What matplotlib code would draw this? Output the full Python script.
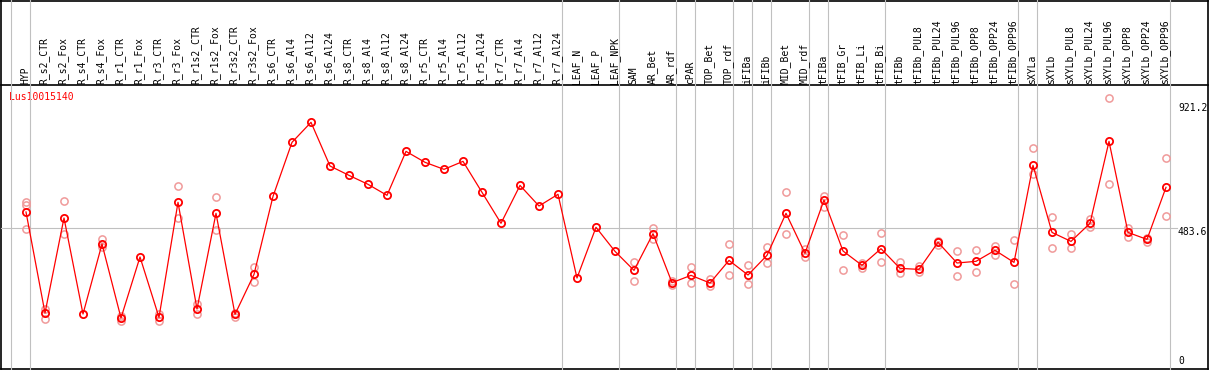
import numpy as np
import matplotlib
matplotlib.use("Agg")
import matplotlib.pyplot as plt
from matplotlib.lines import Line2D
from matplotlib.transforms import blended_transform_factory

# ---------------- data ----------------
categories = ["HYP", "R_s2_CTR", "R_s2_Fox", "R_s4_CTR", "R_s4_Fox", "R_r1_CTR", "R_r1_Fox",
              "R_r3_CTR", "R_r3_Fox", "R_r1s2_CTR", "R_r1s2_Fox", "R_r3s2_CTR", "R_r3s2_Fox",
              "R_s6_CTR", "R_s6_Al4", "R_s6_Al12", "R_s6_Al24", "R_s8_CTR", "R_s8_Al4",
              "R_s8_Al12", "R_s8_Al24", "R_r5_CTR", "R_r5_Al4", "R_r5_Al12", "R_r5_Al24",
              "R_r7_CTR", "R_r7_Al4", "R_r7_Al12", "R_r7_Al24", "LEAF_N", "LEAF_P", "LEAF_NPK",
              "SAM", "AR_Bet", "AR_rdf", "cPAR", "TOP_Bet", "TOP_rdf", "iFIBa", "iFIBb",
              "MID_Bet", "MID_rdf", "tFIBa", "tFIB_Gr", "tFIB_Li", "tFIB_Bi", "tFIBb",
              "tFIBb_PUL8", "tFIBb_PUL24", "tFIBb_PUL96", "tFIBb_OPP8", "tFIBb_OPP24",
              "tFIBb_OPP96", "sXYLa", "sXYLb", "sXYLb_PUL8", "sXYLb_PUL24", "sXYLb_PUL96",
              "sXYLb_OPP8", "sXYLb_OPP24", "sXYLb_OPP96"]

means = [539.6, 185.7, 518.6, 182.2, 427.5, 168.2, 382, 170.5, 573.5, 199.7, 535, 181, 321,
         594.3, 783.7, 853.8, 700.8, 668, 636.6, 598, 752, 713.7, 689, 717, 608.5, 500, 632.8,
         560.6, 601.6, 308.3, 486, 401.7, 335, 463.6, 292, 317.6, 290.8, 370, 318.8, 387.8,
         535, 394.9, 581.6, 403, 352.8, 411, 342, 338.6, 433.4, 360.9, 366.7, 405.4, 363,
         703, 468, 436.6, 500, 787, 468, 443.6, 626]

nan = float("nan")
rep_hi = [574.6, 199.7, 578, nan, 446, 175, nan, 182, 629.6, 216, 592, 185.7, 346.9,
          nan, nan, nan, nan, nan, nan, nan, nan, nan, nan, nan, nan, nan, nan, nan, nan,
          nan, nan, nan,
          363, 484.6, 298.7, 346.9, 303.7, 426, 352.8, 417, 608.5, 408.9, 595.7, 457.6, 362,
          464.9, 364.4, 350.4, 439, 401.7, 405.4, 421.6, 440, 762.5, 520.5, 461.4, 514, 938,
          484.6, 450, 727.7]
rep_mid = [564] + [nan] * 60
rep_lo = [479, 165.8, 462.5, nan, 415.8, 158.8, nan, 158.8, 517.5, 181, 475.5, 172.8, 295.4,
          nan, nan, nan, nan, nan, nan, nan, nan, nan, nan, nan, nan, nan, nan, nan, nan,
          nan, nan, nan,
          296.4, 446, 285, 289.6, 280.3, 317.6, 286, 362, 461.4, 383, 558, 335, 342, 363,
          324.7, 329.4, 425, 314, 329.4, 387.8, 286, 673.7, 412, 412, 488, 636.6, 453, 433, 524]

# columns after which a grey separator is drawn (-1 = before the first column)
separators_after = [-1, 0, 28, 31, 34, 35, 37, 38, 39, 41, 42, 45, 52, 53, 60]
axis_ticks = [921.2, 483.6, 0]
gene = "Lus10015140"

# ---------------- layout ----------------
W, H = 1209, 370
fig = plt.figure(figsize=(W / 100, H / 100), dpi=100)
fig.patch.set_facecolor("white")

# pixel-coordinate overlay
px = fig.add_axes([0, 0, 1, 1])
px.set_xlim(0, W)
px.set_ylim(H, 0)
px.axis("off")

# data axes covering whole figure: column i at pixel 26+19*i ; value v at pixel 366-0.2854*v
step, x0 = 19.0, 26.0
k, y0 = 0.2854, 366.0
ax = fig.add_axes([0, 0, 1, 1], zorder=2)
ax.patch.set_alpha(0)
ax.set_xlim((0 - x0) / step, (W - x0) / step)
ax.set_ylim((y0 - H) / k, y0 / k)
ax.axis("off")

mono = "DejaVu Sans Mono"
fs = 7

xs = np.arange(len(categories))
blend = blended_transform_factory(ax.transData, px.transData)

# separators (full height)
for s in separators_after:
    xb = s + 0.22
    ax.plot([xb, xb], [0, 369], transform=blend, color="#c0c0c0", lw=0.8, zorder=1,
            clip_on=False)

# horizontal gridline at middle tick
yg = axis_ticks[1]
ax.plot([(1 - x0) / step, (1177 - x0) / step], [yg, yg], color="#c0c0c0", lw=0.8, zorder=1)

# frame
for (xa, ya, xb2, yb) in [(1, 0, 1, 369), (0, 0.5, 1208, 0.5), (1, 85, 1208, 85),
                          (1, 369, 1208, 369), (1207.5, 0, 1207.5, 369)]:
    px.add_line(Line2D([xa, xb2], [ya, yb], color="black", lw=1.2))

# column labels
for i, c in enumerate(categories):
    ax.text(i - 0.05, 83.5, c, transform=blend, rotation=90, ha="center", va="bottom",
            fontsize=fs, family=mono, color="black")

# value labels
for v in axis_ticks:
    dy = 4.5 if v > 0 else -4.5
    yp = y0 - k * v + dy
    px.text(1178, yp, f"{v:g}" if v != 0 else "0", ha="left", va="center", fontsize=fs,
            family=mono, color="black", clip_on=True)

# gene name
px.text(9, 97.5, gene, ha="left", va="center", fontsize=fs, family=mono, color="red")

# replicates
for reps in (rep_hi, rep_mid, rep_lo):
    ax.plot(xs, reps, ls="none", marker="o", ms=5.2, mfc="none", mec="#f09a9a", mew=1.1,
            zorder=3)

# mean line
ax.plot(xs, means, color="red", lw=0.9, marker="o", ms=5.2, mfc="none", mec="red",
        mew=1.3, zorder=4)

fig.savefig("out.png", dpi=100, facecolor="white")
